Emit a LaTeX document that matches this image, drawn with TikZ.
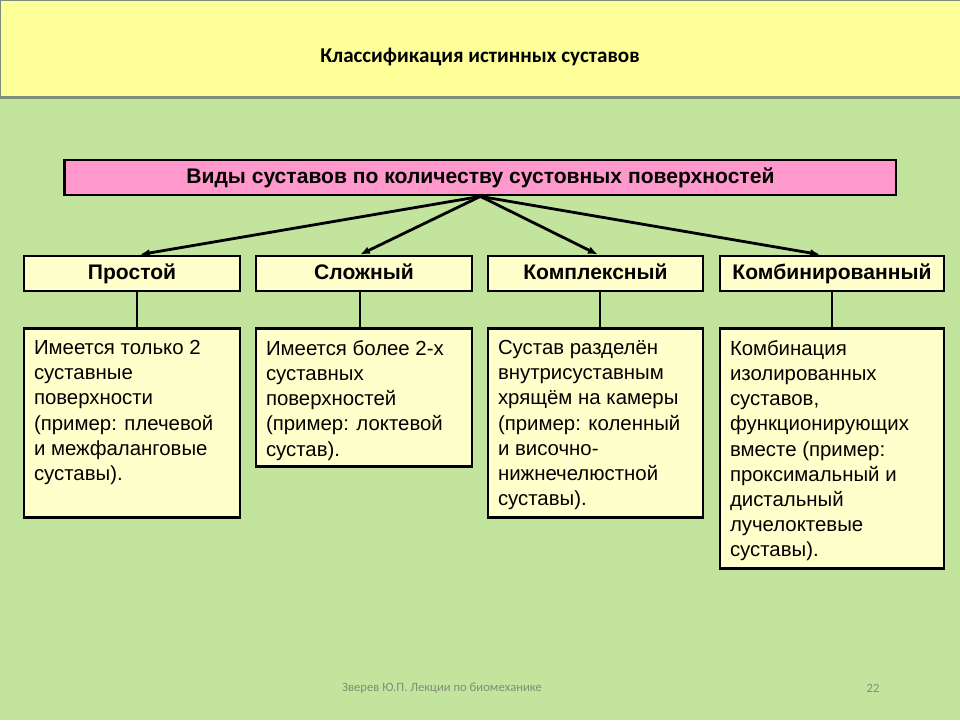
\documentclass[tikz,border=0pt]{standalone}
\usepackage{fontspec}
\setmainfont{Liberation Sans}
\newfontfamily\titlefont{Carlito}
\usepackage{xcolor}
\usepackage{tikz}
\usetikzlibrary{calc}
\usetikzlibrary{arrows.meta}
\usetikzlibrary{positioning}
\definecolor{bggreen}{RGB}{195,228,157}
\definecolor{titleyellow}{RGB}{255,255,153}
\definecolor{titlegray}{RGB}{122,142,122}
\definecolor{kindpink}{RGB}{255,153,204}
\definecolor{boxyellow}{RGB}{255,255,204}
\definecolor{footgray}{RGB}{128,142,118}
\tikzset{>=latex}
\tikzset{
  headbox/.style = {rectangle, draw=black, line width=2pt, fill=boxyellow, minimum height=0.875cm, text height=11pt, text depth=3pt, font=\bfseries\fontsize{15}{18}\selectfont},
  descbox/.style = {rectangle, draw=black, line width=2pt, fill=boxyellow, anchor=north, inner xsep=0.25cm, inner ysep=0.3cm, font=\fontsize{14.5}{17.9}\selectfont},
  link/.style = {-{Latex[length=7pt,width=5.5pt]}, line width=2pt},
}
\newcommand{\desctext}[3]{\parbox[t][#1][t]{#2}{\raggedright #3}}

\begin{document}
\begin{tikzpicture}
\useasboundingbox (0,0) rectangle (24,18);
\fill [bggreen] (0,0) rectangle (24,18);
% title bar
\fill [titleyellow] (0,15.6) rectangle (24,18);
\draw [titlegray, line width=0.6pt] (0,15.6) rectangle (24,18);
\draw [titlegray, line width=2.5pt] (0,15.5625) -- (24,15.5625);
\node [font=\titlefont\bfseries\fontsize{15}{18}\selectfont] (T) at (12, 16.575) {Классификация истинных суставов};

\node [rectangle, draw=black, line width=2pt, fill=kindpink, minimum width=20.775cm, minimum height=0.875cm, text height=11pt, text depth=3pt, font=\bfseries\fontsize{15}{18}\selectfont] (V) at (12.01, 13.5625) {Виды суставов по количеству сустовных поверхностей};

\node [headbox, minimum width=5.4cm] (P) at (3.3, 11.1625) {Простой};
\node [headbox, minimum width=5.4cm] (S) at (9.1, 11.1625) {Сложный};
\node [headbox, minimum width=5.375cm] (K) at (14.8875, 11.1625) {Комплексный};
\node [headbox, minimum width=5.6cm] (M) at (20.8, 11.1625) {Комбинированный};

\node [descbox] (P1) at (3.3, 9.825) {\desctext{4.125cm}{4.9cm}{Имеется только 2\\ суставные\\ поверхности\\ (пример: плечевой\\ и межфаланговые\\ суставы).}};
\node [descbox] (S1) at (9.1, 9.825) {\desctext{2.85cm}{4.9cm}{Имеется более 2-х\\ суставных\\ поверхностей\\ (пример: локтевой\\ сустав).}};
\node [descbox] (K1) at (14.8875, 9.825) {\desctext{4.125cm}{4.875cm}{Сустав разделён\\ внутрисуставным\\ хрящём на камеры\\ (пример: коленный\\ и височно-\\ нижнечелюстной\\ суставы).}};
\node [descbox] (M1) at (20.8, 9.825) {\desctext{5.4cm}{5.1cm}{Комбинация\\ изолированных\\ суставов,\\ функционирующих\\ вместе (пример:\\ проксимальный и\\ дистальный\\ лучелоктевые\\ суставы).}};

% arrows
\draw [link] (V.south) to ([xshift=2mm]P.north);
\draw [link] (V.south) to ([xshift=-1mm]S.north);
\draw [link] (V.south) to ([xshift=0.6mm]K.north);
\draw [link] (V.south) to ([xshift=-3mm]M.north);
\draw [line width=2pt] ([xshift=1.25mm]P.south) -- ([xshift=1.25mm]P1.north);
\draw [line width=2pt] ([xshift=-1mm]S.south) -- ([xshift=-1mm]S1.north);
\draw [line width=2pt] ([xshift=1.1mm]K.south) -- ([xshift=1.1mm]K1.north);
\draw [line width=2pt] (M.south) -- (M1.north);

% footer
\node [text=footgray, font=\titlefont\fontsize{9}{11}\selectfont] (F) at (11.05, 0.8) {Зверев Ю.П. Лекции по биомеханике};
\node [text=footgray, font=\titlefont\fontsize{9}{11}\selectfont] (N) at (21.825, 0.8) {22};
\end{tikzpicture}
\end{document}
